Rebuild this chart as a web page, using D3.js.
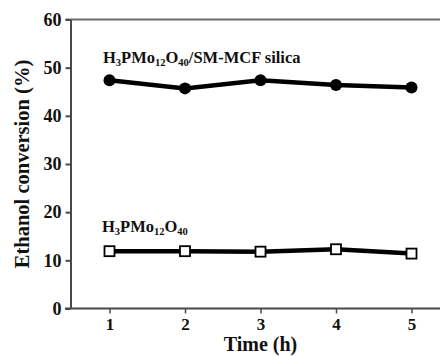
<!DOCTYPE html>
<html>
<head>
<meta charset="utf-8">
<script src="https://cdn.jsdelivr.net/npm/d3@7/dist/d3.min.js"></script>
<style>
  html, body { margin: 0; padding: 0; background: #fff; }
  svg { display: block; }
  text { font-family: "Liberation Serif", "Times New Roman", serif; font-weight: bold; fill: #111; }
</style>
</head>
<body>
<svg id="chart" width="440" height="356"></svg>
<script>
// Ethanol conversion over time for two catalysts
const times = [1, 2, 3, 4, 5];
const supported = [47.4, 45.7, 47.4, 46.4, 45.9];   // H3PMo12O40/SM-MCF silica
const bulk = [11.9, 11.9, 11.8, 12.3, 11.4];        // H3PMo12O40
const yTicks = [0, 10, 20, 30, 40, 50, 60];
const xTicks = [1, 2, 3, 4, 5];

const W = 440, H = 356;
const svg = d3.select("#chart");

const x = d3.scaleLinear().domain([1, 5]).range([109.5, 411.5]);
const y = d3.scaleLinear().domain([0, 60]).range([308.5, 19.5]);
const axisX = 70.5;
const axisColor = "#4a4a4a";

// frame: top edge and bottom axis line extend to the right edge
svg.append("line")
  .attr("x1", 65.5).attr("x2", W).attr("y1", y(60)).attr("y2", y(60))
  .attr("stroke", "#6a6a6a").attr("stroke-width", 2);

// y axis
const gy = svg.append("g").attr("transform", `translate(${axisX},0)`)
  .call(d3.axisLeft(y).tickValues(yTicks).tickFormat(d3.format("d"))
    .tickSize(5).tickSizeOuter(0).tickPadding(4));
gy.select(".domain").attr("stroke", axisColor).attr("stroke-width", 2);
gy.selectAll(".tick line").attr("stroke", axisColor).attr("stroke-width", 2);
gy.selectAll(".tick text").attr("font-size", 18).attr("font-family", null).attr("fill", "#111");

// x axis
const gx = svg.append("g").attr("transform", `translate(0,${y(0)})`)
  .call(d3.axisBottom(x).tickValues(xTicks).tickFormat(d3.format("d"))
    .tickSize(5).tickSizeOuter(0).tickPadding(4));
gx.select(".domain").remove();
gx.selectAll(".tick line").attr("stroke", axisColor).attr("stroke-width", 1.5);
gx.selectAll(".tick text").attr("font-size", 17).attr("font-family", null).attr("fill", "#111");
svg.append("line")
  .attr("x1", 65).attr("x2", W).attr("y1", y(0)).attr("y2", y(0))
  .attr("stroke", axisColor).attr("stroke-width", 2);

svg.selectAll(".tick text").style("font-weight", "bold");

// axis titles
svg.append("text")
  .attr("transform", `translate(29,164) rotate(-90)`)
  .attr("text-anchor", "middle").attr("font-size", 20.5)
  .text("Ethanol conversion (%)");
svg.append("text")
  .attr("x", x(3)).attr("y", 351)
  .attr("text-anchor", "middle").attr("font-size", 20)
  .text("Time (h)");

const line = d3.line().x((d, i) => x(times[i])).y(d => y(d));

// supported catalyst: filled circles
svg.append("path").datum(supported)
  .attr("d", line).attr("fill", "none").attr("stroke", "#000").attr("stroke-width", 4.5);
svg.selectAll(".dot").data(supported).join("circle")
  .attr("class", "dot")
  .attr("cx", (d, i) => x(times[i])).attr("cy", d => y(d)).attr("r", 6)
  .attr("fill", "#000");

// bulk acid: open squares
svg.append("path").datum(bulk)
  .attr("d", line).attr("fill", "none").attr("stroke", "#000").attr("stroke-width", 4.5);
const s = 10;
svg.selectAll(".sq").data(bulk).join("rect")
  .attr("class", "sq")
  .attr("x", (d, i) => x(times[i]) - s / 2).attr("y", d => y(d) - s / 2)
  .attr("width", s).attr("height", s)
  .attr("fill", "#fff").attr("stroke", "#000").attr("stroke-width", 1.8);

// series labels with subscripts
function formula(t, px, py) {
  const parts = [["H"], ["3", 1], ["PMo"], ["12", 1], ["O"], ["40", 1]];
  const txt = svg.append("text").attr("x", px).attr("y", py).attr("font-size", 16.5);
  let down = false;
  parts.forEach(([str, isSub]) => {
    const ts = txt.append("tspan").text(str);
    if (isSub && !down) { ts.attr("font-size", 10.5).attr("dy", 3); down = true; }
    else if (!isSub && down) { ts.attr("dy", -3); down = false; }
    else if (isSub) ts.attr("font-size", 10.5);
  });
  if (t) {
    const ts = txt.append("tspan").text(t);
    if (down) ts.attr("dy", -3);
  }
  return txt;
}
formula("/SM-MCF silica", 103, 63);
formula("", 102, 232);
</script>
</body>
</html>
